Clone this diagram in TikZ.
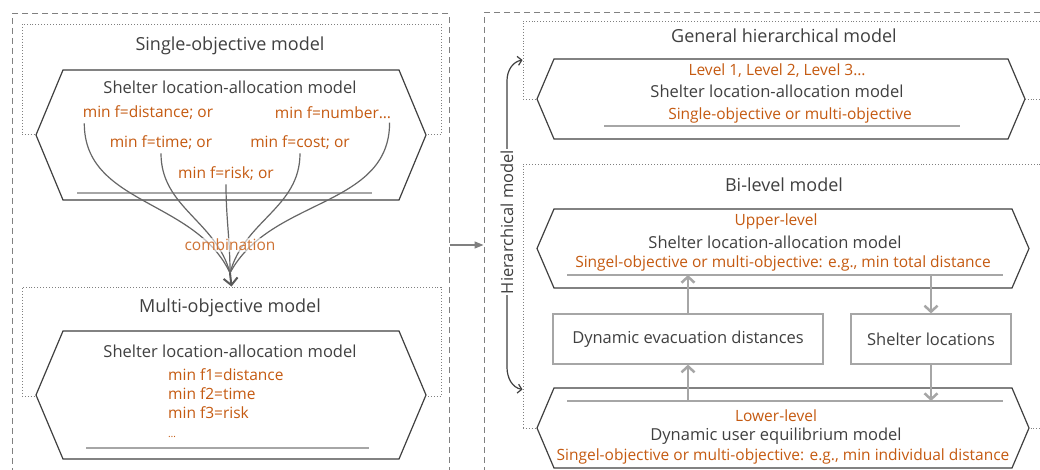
\documentclass[tikz,border=0pt]{standalone}
\usepackage{fontspec}
\setmainfont{Open Sans}
\usetikzlibrary{positioning, arrows.meta}
\definecolor{txtgray}{HTML}{404040}
\definecolor{ochre}{HTML}{C55A11}
\definecolor{bargray}{HTML}{A6A6A6}
\definecolor{framegray}{HTML}{808080}
\newcommand{\setsz}[1]{\fontsize{#1}{#1}\selectfont}
% hexagon outline round a body node: name, tip offset
\newcommand{\hexframe}[2]{\filldraw[hexline] (#1.north west) -- (#1.north east) -- ([xshift=#2]#1.east) -- (#1.south east) -- (#1.south west) -- ([xshift=-#2]#1.west) -- cycle;}

\tikzset{
	dashframe/.style={draw=framegray, dash pattern=on 6pt off 4pt, line width=1pt},
	dotframe/.style={draw=framegray, dotted, line width=0.9pt, inner sep=0pt},
	hexbody/.style={rectangle, inner sep=0pt, outer sep=0pt},
	hexline/.style={draw=txtgray, line width=1.2pt, fill=white, line join=miter},
	title/.style={text=txtgray, font=\setsz{18}},
	plain/.style={text=txtgray, font=\setsz{16.5}},
	formula/.style={text=ochre, font=\setsz{15.5}},
	bar/.style={draw=bargray, line width=2pt},
	merge/.style={draw=black!60, line width=1.2pt},
	flow/.style={draw=bargray, line width=2.5pt, -{Straight Barb[length=6pt, width=13pt]}},
	infobox/.style={draw=bargray, line width=1.2pt, fill=white, minimum height=50pt, plain},
}

\begin{document}
\begin{tikzpicture}[x=1pt, y=-1pt]
	\useasboundingbox (0,0) rectangle (1040,470);
	\fill[white] (0,0) rectangle (1040,470);
	\clip (0,0) rectangle (1040,470);

	% panels
	\node[dashframe, minimum width=437, minimum height=462] (leftpanel) at (230.5,245) {};
	\node[dashframe, minimum width=586, minimum height=464] (rightpanel) at (777,245) {};
	\draw[draw=framegray, line width=1.3pt, -{Triangle[length=9pt, width=7pt]}] (leftpanel.east) -- (rightpanel.west);

	% single-objective
	\node[dotframe, minimum width=419, minimum height=110] (sobox) at (231.5,79) {};
	\node[title] (sotitle) at (230,46) {Single-objective model};
	\node[hexbody, minimum width=336, minimum height=130] (sohex) at (231,135) {};
	\hexframe{sohex}{27pt}
	\node[plain] (sohead) at (230,87) {Shelter location-allocation model};
	\node[formula] (fdist) at (148,113) {min f=distance; or};
	\node[formula] (fnum) at (333,113) {min f=number…};
	\node[formula] (ftime) at (161,143) {min f=time; or};
	\node[formula] (fcost) at (300,143) {min f=cost; or};
	\node[formula] (frisk) at (226,174) {min f=risk; or};
	\draw[bar] (77,193) -- (372,193);

	% multi-objective
	\node[dotframe, minimum width=419, minimum height=109] (mobox) at (231.5,341.5) {};
	\node[title] (motitle) at (230,308) {Multi-objective model};
	\node[hexbody, minimum width=336, minimum height=128] (mohex) at (231,395) {};
	\hexframe{mohex}{27pt}
	\node[plain] (mohead) at (230,351) {Shelter location-allocation model};
	\node[formula, align=left, anchor=west, inner sep=0pt, font=\fontsize{15.5}{19}\selectfont] (molist) at (168,403) {min f1=distance\\min f2=time\\min f3=risk\\{\setsz{10}…}};
	\draw[bar] (86,448) -- (369,448);

	% combination
	\coordinate (join) at (230,273);
	\draw[merge] ([xshift=5pt]fdist.south west) to[out=-90, in=115] (join);
	\draw[merge] (ftime.south) to[out=-90, in=105] (join);
	\draw[merge] (frisk.south) to[out=-90, in=90] (join);
	\draw[merge] (fcost.south) to[out=-90, in=75] (join);
	\draw[merge] ([xshift=-5pt]fnum.south east) to[out=-90, in=62] (join);
	\node[text=ochre!85, font=\setsz{15.5}, fill=white, fill opacity=0.6, text opacity=1, inner sep=1pt] (combi) at (230,245) {combination};
	\draw[draw=black!65, line width=2pt, -{Straight Barb[length=7pt, width=14pt]}] (join) -- (mobox.north);

	% general hierarchical model
	\node[dotframe, minimum width=537, minimum height=78] (genbox) at (791.5,60) {};
	\node[title] (gentitle) at (784,36) {General hierarchical model};
	\node[hexbody, minimum width=454, minimum height=80] (genhex) at (781,99) {};
	\hexframe{genhex}{17pt}
	\node[formula] (genlvl) at (777,71) {Level 1, Level 2, Level 3…};
	\node[plain] (genhead) at (777,91) {Shelter location-allocation model};
	\node[formula] (genobj) at (790,115) {Single-objective or multi-objective};
	\draw[bar] (604,126) -- (960,126);

	% bi-level model
	\node[dotframe, minimum width=537, minimum height=264] (bibox) at (791.5,296) {};
	\node[title] (bititle) at (784,185) {Bi-level model};
	\node[hexbody, minimum width=458, minimum height=79] (uphex) at (783,248.5) {};
	\hexframe{uphex}{17pt}
	\node[formula] (uplvl) at (776,221) {Upper-level};
	\node[plain] (uphead) at (775,242) {Shelter location-allocation model};
	\node[formula] (upobj) at (783,263) {Singel-objective or multi-objective: e.g., min total distance};
	\coordinate (upbar) at (785,275);
	\draw[bar] (567,275) -- (1003,275);

	\node[hexbody, minimum width=458, minimum height=80] (lowhex) at (783,428) {};
	\hexframe{lowhex}{17pt}
	\coordinate (lowbar) at (785,401);
	\draw[bar] (567,401) -- (1003,401);
	\node[formula] (lowlvl) at (776,416) {Lower-level};
	\node[plain] (lowhead) at (776,436) {Dynamic user equilibrium model};
	\node[formula] (lowobj) at (783,456) {Singel-objective or multi-objective: e.g., min individual distance};

	\node[infobox, minimum width=270] (dyn) at (688,339) {Dynamic evacuation distances};
	\node[infobox, minimum width=160] (shel) at (931,339) {Shelter locations};
	\draw[flow] (dyn.south |- lowbar) -- (dyn.south);
	\draw[flow] (dyn.north) -- (dyn.north |- upbar);
	\draw[flow] (shel.north |- upbar) -- (shel.north);
	\draw[flow] (shel.south) -- (shel.south |- lowbar);

	% hierarchical brace
	\node[plain, rotate=90, inner sep=1pt] (hiertext) at (507,222) {Hierarchical model};
	\draw[draw=txtgray, line width=1.2pt, -{Straight Barb[length=4pt, width=9pt]}] (hiertext.east) -- ++(0,-68) to[out=90, in=190] (genbox.west);
	\draw[draw=txtgray, line width=1.2pt, -{Straight Barb[length=4pt, width=9pt]}] (hiertext.west) -- ++(0,72) to[out=-90, in=170] ([yshift=39pt]bibox.south west);
\end{tikzpicture}
\end{document}
